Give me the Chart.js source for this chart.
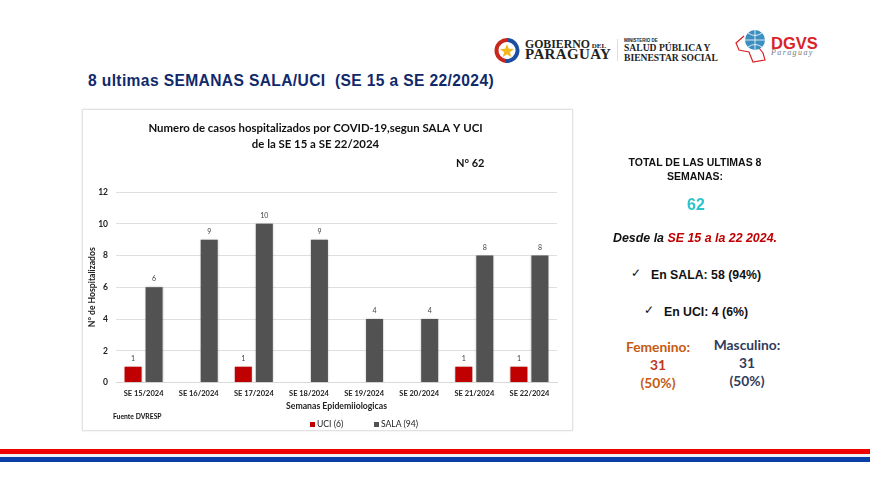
<!DOCTYPE html>
<html>
<head>
<meta charset="utf-8">
<script src="https://cdn.jsdelivr.net/npm/chart.js@4"></script>
<style>
  html, body { margin: 0; padding: 0; background: #fff; }
  #page { position: relative; width: 870px; height: 487px; overflow: hidden; font-family: "Liberation Sans", sans-serif; }
  #page div { position: absolute; white-space: nowrap; }
  .frame { left: 82px; top: 109px; width: 489px; height: 320px; border: 1px solid #e2e2e2; box-shadow: 0 0 2px #e4e4e4; }
  #holder { left: 74px; top: 109px; width: 486px; height: 321px; }
  .heading { left: 88px; top: 72px; font-size: 15.6px; font-weight: bold; color: #10296b; letter-spacing: 0.37px; white-space: pre !important; }
  .side { text-align: center; font-weight: bold; color: #111; transform: translateX(-50%); }
  .cal { font-family: Lato, sans-serif; text-align: center; transform: translateX(-50%); font-weight: 700; font-size: 13.8px; line-height: 18px; }
  .serif { font-family: "Liberation Serif", serif; font-weight: bold; color: #222; }
  .band { left: 0; width: 870px; }
  .key { font: 8.6px Lato, sans-serif; color: #222; top: 419px; }
  .swatch { width: 5px; height: 5px; top: 422px; }
</style>
</head>
<body>
<div id="page">
  <!-- logos -->
  <svg style="position:absolute;left:492px;top:36px" width="30" height="30" viewBox="0 0 30 30">
    <circle cx="15" cy="14.5" r="10.5" fill="none" stroke="#c8261e" stroke-width="4" stroke-dasharray="33 66" transform="rotate(95 15 14.5)"/>
    <circle cx="15" cy="14.5" r="10.5" fill="none" stroke="#1c4fa0" stroke-width="4" stroke-dasharray="33 66" transform="rotate(275 15 14.5)"/>
    <polygon points="15,8 16.8,12.8 22,13 17.9,16.2 19.3,21 15,18.3 10.7,21 12.1,16.2 8,13 13.2,12.8" fill="#f2b81c"/>
  </svg>
  <div class="serif" style="left:525px;top:37px;font-size:11.8px;">GOBIERNO<span style="font-size:7px"> DEL</span></div>
  <div class="serif" style="left:525px;top:46px;font-size:15px;letter-spacing:.35px;">PARAGUAY</div>
  <div style="left:617px;top:39px;width:1px;height:22px;background:#ddd;"></div>
  <div class="serif" style="left:624px;top:38px;font-size:4.5px;font-family:'Liberation Sans';">MINISTERIO DE</div>
  <div class="serif" style="left:624px;top:42px;font-size:9.6px;">SALUD PÚBLICA Y</div>
  <div class="serif" style="left:624px;top:52px;font-size:9.6px;">BIENESTAR SOCIAL</div>
  <svg style="position:absolute;left:735px;top:28px" width="40" height="36" viewBox="0 0 40 36">
    <path d="M9 8 L1 15 L4 22 L14 24 L18 34 L30 32 L28 25 L24 20" fill="none" stroke="#d8232a" stroke-width="1.2"/>
    <circle cx="20" cy="12" r="10" fill="#3d8fc0"/>
    <path d="M10 12 H30 M20 2 V22 M13 5 Q20 10 27 5 M13 19 Q20 14 27 19" fill="none" stroke="#fff" stroke-width="0.8"/>
  </svg>
  <div style="left:771px;top:34px;font-size:16.5px;font-weight:bold;color:#d8232a;">DGVS</div>
  <div style="left:771px;top:48px;font-size:8px;font-style:italic;color:#777;font-family:'Liberation Serif';letter-spacing:1.4px;">Paraguay</div>

  <div class="heading">8 ultimas SEMANAS SALA/UCI  (SE 15 a SE 22/2024)</div>

  <div class="frame"></div>
  <div id="holder"><canvas id="chart" width="486" height="321"></canvas></div>
  <div style="left:456px;top:156px;font:700 11px Lato,sans-serif;color:#111;">N° 62</div>
  <div style="left:113px;top:412px;font:700 6.8px Lato,sans-serif;color:#111;">Fuente DVRESP</div>
  <div id="legend"></div>

  <!-- side panel -->
  <div class="side" style="left:695px;top:155px;font-size:10.5px;line-height:14px;">TOTAL DE LAS ULTIMAS 8<br>SEMANAS:</div>
  <div class="side" style="left:696px;top:196px;font-size:16px;color:#2cc4cc;">62</div>
  <div class="side" style="left:695px;top:231px;font-size:12.4px;font-style:italic;">Desde la <span style="color:#c00000">SE 15 a la 22 2024.</span></div>
  <div style="left:631px;top:266px;font-size:12px;color:#111;">✓</div>
  <div class="side" style="left:706px;top:268px;font-size:12.3px;">En SALA: 58 (94%)</div>
  <div style="left:644px;top:303px;font-size:12px;color:#111;">✓</div>
  <div class="side" style="left:706px;top:305px;font-size:12.3px;">En UCI: 4 (6%)</div>
  <div class="cal" style="left:658px;top:338px;color:#c55a11;">Femenino:<br><span style="color:#c0391b">31</span><br>(50%)</div>
  <div class="cal" style="left:747px;top:336px;color:#2f3b5c;">Masculino:<br>31<br>(50%)</div>

  <div class="band" style="top:449px;height:5px;background:#f00000;"></div>
  <div class="band" style="top:454px;height:3px;background:#eef0f6;"></div>
  <div class="band" style="top:457px;height:5px;background:#0a3fa8;"></div>
</div>

<script>
const semanas = ["SE 15/2024", "SE 16/2024", "SE 17/2024", "SE 18/2024", "SE 19/2024", "SE 20/2024", "SE 21/2024", "SE 22/2024"];
const uci = [1, null, 1, null, null, null, 1, 1];
const sala = [6, 9, 10, 9, 4, 4, 8, 8];
const yTicks = [0, 2, 4, 6, 8, 10, 12];

const fontName = "Lato, sans-serif";

// value labels above the bars, and a soft shadow like the original
const barLabels = {
  id: "barLabels",
  beforeDatasetDraw(chart) {
    chart.ctx.save();
    chart.ctx.shadowColor = "rgba(0,0,0,0.25)";
    chart.ctx.shadowBlur = 2;
  },
  afterDatasetDraw(chart) {
    chart.ctx.restore();
  },
  afterDatasetsDraw(chart) {
    const ctx = chart.ctx;
    ctx.save();
    ctx.font = "7px " + fontName;
    ctx.fillStyle = "#404040";
    ctx.textAlign = "center";
    chart.data.datasets.forEach((ds, i) => {
      chart.getDatasetMeta(i).data.forEach((bar, j) => {
        if (ds.data[j] == null) return;
        ctx.fillText(ds.data[j], bar.x, bar.y - 6);
      });
    });
    ctx.restore();
  },
};

const chart = new Chart(document.getElementById("chart"), {
  type: "bar",
  data: {
    labels: semanas,
    datasets: [
      { label: "UCI (6)", data: uci, backgroundColor: "#c00000" },
      { label: "SALA (94)", data: sala, backgroundColor: "#525252" },
    ],
  },
  plugins: [barLabels],
  options: {
    responsive: false,
    animation: false,
    devicePixelRatio: 1,
    barPercentage: 0.81,
    categoryPercentage: 0.762,
    layout: { padding: { top: 12, right: 3, bottom: 19, left: 0 } },
    plugins: {
      title: {
        display: true,
        text: ["Numero de casos hospitalizados por COVID-19,segun SALA Y UCI", "de la SE 15 a SE 22/2024"],
        color: "#111",
        font: { family: fontName, size: 11.4, weight: "bold", lineHeight: 1.36 },
        padding: { top: 0, bottom: 40 },
      },
      legend: { display: false },
      tooltip: { enabled: false },
    },
    scales: {
      x: {
        grid: { display: false, drawTicks: false },
        border: { color: "#d9d9d9" },
        ticks: { color: "#222", font: { family: fontName, size: 7.5, weight: "bold" }, maxRotation: 0, padding: 7 },
        title: {
          display: true,
          text: "Semanas Epidemiiologicas",
          color: "#222",
          font: { family: fontName, size: 8.7, weight: "bold" },
          padding: { top: -5, bottom: 0 },
        },
      },
      y: {
        min: 0,
        max: 12,
        afterFit(scale) { scale.width = 42; },
        afterBuildTicks(scale) { scale.ticks = yTicks.map((v) => ({ value: v })); },
        grid: { color: "#dfdfdf", drawTicks: false },
        border: { display: false },
        ticks: { color: "#222", font: { family: fontName, size: 8.5, weight: "bold" }, padding: 8 },
        title: {
          display: true,
          text: "N° de Hospitalizados",
          color: "#222",
          font: { family: fontName, size: 8.6, weight: "bold" },
          padding: { top: 13, bottom: 0 },
        },
      },
    },
  },
});

// legend written by hand because it sits off centre with a wide gap
const legend = document.getElementById("legend");
const legendX = [310, 374];
chart.data.datasets.forEach((ds, i) => {
  const swatch = document.createElement("div");
  swatch.className = "swatch";
  swatch.style.left = legendX[i] + "px";
  swatch.style.background = ds.backgroundColor;
  const key = document.createElement("div");
  key.className = "key";
  key.style.left = legendX[i] + 7 + "px";
  key.textContent = ds.label;
  legend.append(swatch, key);
});
</script>
</body>
</html>
